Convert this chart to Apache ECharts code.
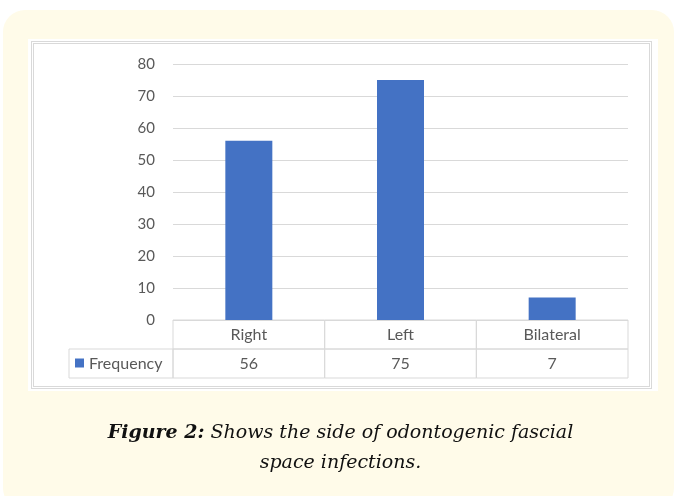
<!DOCTYPE html>
<html>
<head>
<meta charset="utf-8">
<script src="https://cdn.jsdelivr.net/npm/echarts@6/dist/echarts.min.js"></script>
<style>
  html, body { margin: 0; padding: 0; background: #ffffff; }
  #page { position: relative; width: 677px; height: 496px; overflow: hidden; }
  #cream { position: absolute; left: 3px; top: 10px; width: 671px; height: 500px;
           background: #fffbe9; border-radius: 22px; }
  #paper { position: absolute; left: 28px; top: 39px; width: 630px; height: 352px; background: #fff; }
  #frame { position: absolute; left: 31px; top: 41px; width: 615px; height: 342px;
           border: 3px double #d9d9d9; }
  #chart { position: absolute; left: 0; top: 0; width: 677px; height: 496px; }
  #caption { position: absolute; left: 0; width: 677px; top: 416px; text-align: center;
             font-family: "DejaVu Serif", serif; font-style: italic; font-size: 19px;
             line-height: 30px; color: #111; padding-left: 2px; }
</style>
</head>
<body>
<div id="page">
  <div id="cream"></div>
  <div id="paper"></div>
  <div id="frame"></div>
  <div id="chart"></div>
  <div id="caption"><b>Figure 2:</b> Shows the side of odontogenic fascial<br>space infections.</div>
</div>
<script>
var categories = ['Right', 'Left', 'Bilateral'];
var frequency = [56, 75, 7];
var seriesName = 'Frequency';
var yTicks = [0, 80, 10];

var textColor = '#595959';
var lineColor = '#d9d9d9';
var barColor = '#4472c4';
var font = 'Lato, "Open Sans", sans-serif';

// table cells: [column, row, text, kind]
var cells = [];
for (var i = 0; i < categories.length; i++) {
    cells.push([i, 0, categories[i], 'head']);
    cells.push([i, 1, String(frequency[i]), 'value']);
}
cells.push([0, 1, seriesName, 'legend']);

var chart = echarts.init(document.getElementById('chart'));
var option = {
    animation: false,
    grid: [
        { left: 173, right: 49, top: 64, bottom: 176 },
        { left: 173, width: 455, top: 320, height: 58 }
    ],
    xAxis: [
        {
            type: 'category',
            data: categories,
            gridIndex: 0,
            axisLine: { show: false },
            axisTick: { show: false },
            axisLabel: { show: false }
        },
        {
            type: 'category',
            data: categories,
            gridIndex: 1,
            show: false
        }
    ],
    yAxis: [
        {
            type: 'value',
            gridIndex: 0,
            min: yTicks[0],
            max: yTicks[1],
            interval: yTicks[2],
            axisLine: { show: false },
            axisTick: { show: false },
            axisLabel: { color: textColor, fontFamily: font, fontSize: 15, margin: 18 },
            splitLine: { lineStyle: { color: lineColor, width: 1 } }
        },
        {
            type: 'category',
            data: ['head', 'value'],
            inverse: true,
            gridIndex: 1,
            show: false
        }
    ],
    series: [
        {
            name: seriesName,
            type: 'bar',
            xAxisIndex: 0,
            yAxisIndex: 0,
            barWidth: 47,
            itemStyle: { color: barColor },
            data: frequency
        },
        {
            type: 'custom',
            xAxisIndex: 1,
            yAxisIndex: 1,
            data: cells,
            renderItem: function (params, api) {
                var c = api.coord([api.value(0), api.value(1)]);
                var s = api.size([1, 1]);
                var kind = cells[params.dataIndex][3];
                var text = cells[params.dataIndex][2];
                if (kind === 'legend') {
                    var w = 104;
                    var x0 = c[0] - s[0] / 2 - w;
                    return {
                        type: 'group',
                        children: [
                            { type: 'rect', shape: { x: x0, y: c[1] - s[1] / 2, width: w, height: s[1] },
                              style: { fill: 'none', stroke: lineColor, lineWidth: 1 } },
                            { type: 'rect', shape: { x: x0 + 6, y: c[1] - 5, width: 9, height: 9 },
                              style: { fill: barColor } },
                            { type: 'text', x: x0 + 20, y: c[1],
                              style: { text: text, fill: textColor, font: '16px ' + font,
                                       textAlign: 'left', textVerticalAlign: 'middle' } }
                        ]
                    };
                }
                return {
                    type: 'group',
                    children: [
                        { type: 'rect', shape: { x: c[0] - s[0] / 2, y: c[1] - s[1] / 2, width: s[0], height: s[1] },
                          style: { fill: 'none', stroke: lineColor, lineWidth: 1 } },
                        { type: 'text', x: c[0], y: c[1],
                          style: { text: text, fill: textColor, font: '16px ' + font,
                                   textAlign: 'center', textVerticalAlign: 'middle' } }
                    ]
                };
            }
        }
    ]
};
chart.setOption(option);
</script>
</body>
</html>
